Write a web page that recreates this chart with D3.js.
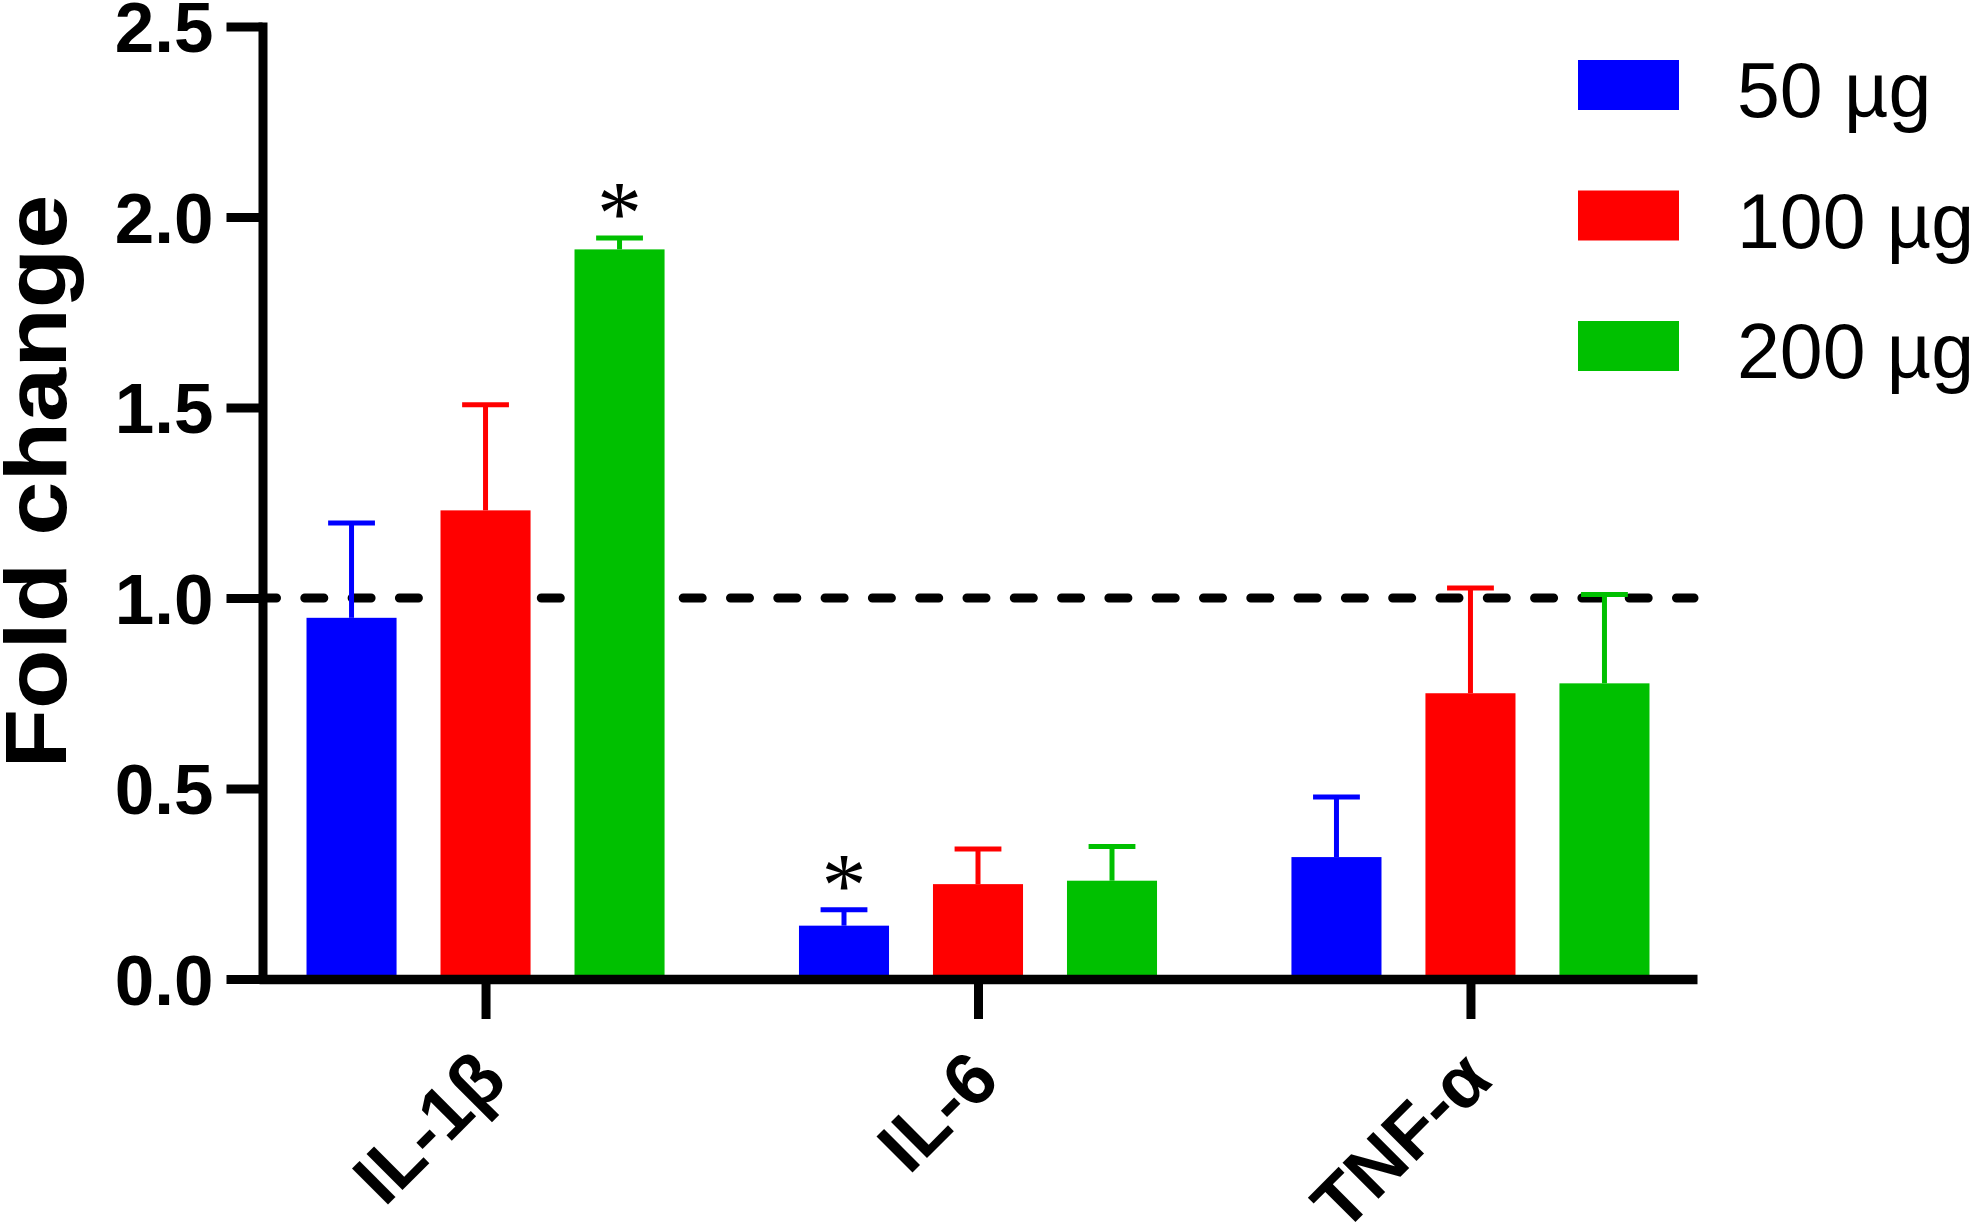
<!DOCTYPE html>
<html>
<head>
<meta charset="utf-8">
<script src="https://cdn.jsdelivr.net/npm/d3@7"></script>
<style>
  html, body { margin: 0; padding: 0; background: #fff; overflow: hidden; }
  svg { display: block; }
</style>
</head>
<body>
<svg id="chart" width="1969" height="1222"></svg>
<script>
// ---------------- data ----------------
const categories = ["IL-1β", "IL-6", "TNF-α"];
const series = ["50 µg", "100 µg", "200 µg"];
const seriesColors = ["#0000FF", "#FF0000", "#00C000"];
const mean50  = [0.948, 0.140, 0.320];
const mean100 = [1.230, 0.249, 0.750];
const mean200 = [1.915, 0.258, 0.776];
const sem50   = [0.249, 0.042, 0.158];
const sem100  = [0.277, 0.092, 0.276];
const sem200  = [0.030, 0.090, 0.233];
const yTickValues = [0, 0.5, 1.0, 1.5, 2.0, 2.5];
const yTitle = "Fold change";
const referenceValue = 1.0;
const significantCategory = ["IL-1β", "IL-6"];
const significantSeries = ["200 µg", "50 µg"];

// ---------------- setup ----------------
const svg = d3.select("#chart");
svg.append("rect").attr("width", 1969).attr("height", 1222).attr("fill", "#fff");

const FONT = "'Liberation Sans', Arial, sans-serif";
const axisX = 262.5;
const y = d3.scaleLinear().domain([0, 2.5]).range([979, 26.5]);
const x0 = d3.scalePoint().domain(categories).range([259, 1697]).padding(0.46);
const x1 = d3.scaleBand().domain(series).range([-201, 201]).paddingInner(0.328).paddingOuter(0.164);
const color = d3.scaleOrdinal().domain(series).range(seriesColors);

const means = [mean50, mean100, mean200];
const sems = [sem50, sem100, sem200];
const rows = [];
categories.forEach((c, ci) => {
  series.forEach((s, si) => {
    rows.push({cat: c, ser: s, mean: means[si][ci], sem: sems[si][ci]});
  });
});

// reference dashed line (behind bars)
svg.append("line")
  .attr("x1", axisX).attr("x2", 1694)
  .attr("y1", y(referenceValue)).attr("y2", y(referenceValue))
  .attr("stroke", "#000").attr("stroke-width", 9)
  .attr("stroke-linecap", "round")
  .attr("stroke-dasharray", "19 28.3")
  .attr("stroke-dashoffset", 5);

// bars
svg.append("g").selectAll("rect").data(rows).join("rect")
  .attr("x", d => x0(d.cat) + x1(d.ser))
  .attr("width", x1.bandwidth())
  .attr("y", d => y(d.mean))
  .attr("height", d => y(0) - y(d.mean))
  .attr("fill", d => color(d.ser));

// error bars (upper only)
const eb = svg.append("g").selectAll("g").data(rows).join("g")
  .attr("stroke", d => color(d.ser)).attr("stroke-width", 5);
eb.append("line")
  .attr("x1", d => x0(d.cat) + x1(d.ser) + x1.bandwidth() / 2)
  .attr("x2", d => x0(d.cat) + x1(d.ser) + x1.bandwidth() / 2)
  .attr("y1", d => y(d.mean))
  .attr("y2", d => y(d.mean + d.sem));
eb.append("line")
  .attr("x1", d => x0(d.cat) + x1(d.ser) + x1.bandwidth() / 2 - x1.bandwidth() * 0.26)
  .attr("x2", d => x0(d.cat) + x1(d.ser) + x1.bandwidth() / 2 + x1.bandwidth() * 0.26)
  .attr("y1", d => y(d.mean + d.sem))
  .attr("y2", d => y(d.mean + d.sem));

// significance asterisks
const sig = rows.filter(d => significantCategory.some((c, i) => c === d.cat && significantSeries[i] === d.ser));
svg.append("g").selectAll("text").data(sig).join("text")
  .attr("x", d => x0(d.cat) + x1(d.ser) + x1.bandwidth() / 2)
  .attr("y", d => y(d.mean + d.sem) + 6)
  .attr("text-anchor", "middle")
  .attr("font-family", "'Liberation Serif', 'Times New Roman', serif")
  .attr("font-size", 90)
  .attr("fill", "#000")
  .text("*");

// y axis
const yAxis = d3.axisLeft(y).tickValues(yTickValues).tickFormat(d3.format(".1f"))
  .tickSize(36).tickSizeOuter(0).tickPadding(13);
const gy = svg.append("g").attr("transform", `translate(${axisX},0)`).call(yAxis);
gy.select(".domain").attr("stroke", "#000").attr("stroke-width", 9).attr("stroke-linecap", "square");
gy.selectAll(".tick line").attr("stroke", "#000").attr("stroke-width", 9);
gy.selectAll(".tick text")
  .attr("font-family", FONT).attr("font-weight", "bold").attr("font-size", 71)
  .attr("fill", "#000").attr("dy", "0.358em");

// x axis
const xAxis = d3.axisBottom(x0).tickSize(40).tickSizeOuter(0).tickFormat("");
const gx = svg.append("g").attr("transform", `translate(0,${y(0)})`).call(xAxis);
gx.select(".domain").attr("stroke", "#000").attr("stroke-width", 9.5);
gx.selectAll(".tick line").attr("stroke", "#000").attr("stroke-width", 9);

// x labels rotated
svg.append("g").selectAll("text").data(categories).join("text")
  .attr("transform", d => `translate(${x0(d) + 24},1083) rotate(-45)`)
  .attr("text-anchor", "end")
  .attr("font-family", FONT).attr("font-weight", "bold").attr("font-size", 74)
  .attr("fill", "#000")
  .text(d => d);

// y title
svg.append("text")
  .attr("transform", `translate(66,481.5) rotate(-90)`)
  .attr("text-anchor", "middle")
  .attr("font-family", FONT).attr("font-weight", "bold").attr("font-size", 88)
  .attr("textLength", 574).attr("lengthAdjust", "spacingAndGlyphs")
  .attr("fill", "#000")
  .text(yTitle);

// legend
const lg = svg.append("g").selectAll("g").data(series).join("g")
  .attr("transform", (d, i) => `translate(1578,${60 + i * 130.5})`);
lg.append("rect").attr("width", 101).attr("height", 50).attr("fill", d => color(d));
lg.append("text").attr("x", 159).attr("y", 57)
  .attr("font-family", FONT).attr("font-size", 77).attr("fill", "#000")
  .text(d => d);
</script>
</body>
</html>
